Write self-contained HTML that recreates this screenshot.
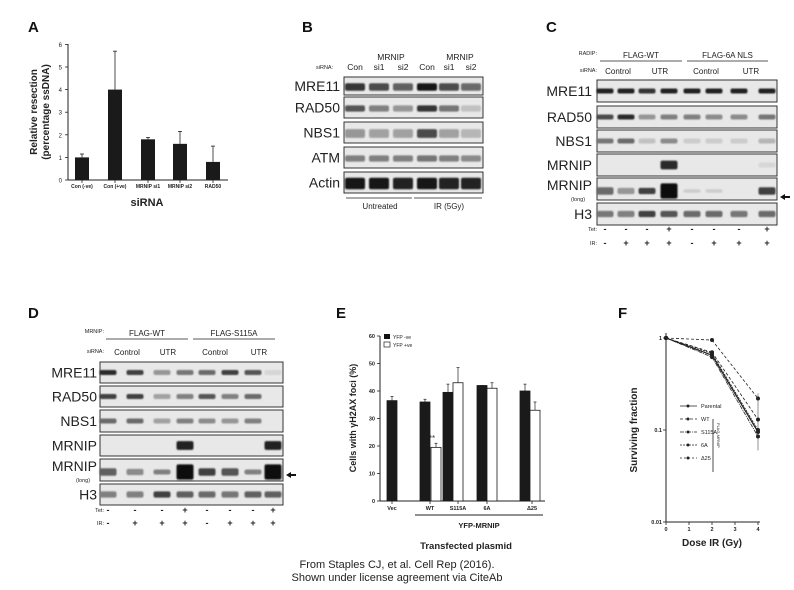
<!DOCTYPE html>
<html><head><meta charset="utf-8"><style>
html,body{margin:0;padding:0;background:#fff;width:794px;height:590px;overflow:hidden}
svg{display:block;font-family:"Liberation Sans",Arial,sans-serif}
</style></head><body>
<svg id="s" width="794" height="590" viewBox="0 0 794 590" xmlns="http://www.w3.org/2000/svg">
<defs><filter id="bl" x="-20%" y="-80%" width="140%" height="260%"><feGaussianBlur stdDeviation="0.7"/></filter></defs>
<g font-weight="bold" font-size="15" fill="#111">
<text x="28" y="32">A</text><text x="302" y="32">B</text><text x="546" y="32">C</text>
<text x="28" y="318">D</text><text x="336" y="318">E</text><text x="618" y="318">F</text>
</g>
<g stroke="#222" stroke-width="1" fill="none">
<line x1="68" y1="44" x2="68" y2="180"/><line x1="68" y1="180" x2="228" y2="180"/>
</g>
<text transform="translate(37,112) rotate(-90)" text-anchor="middle" font-size="10" font-weight="bold" fill="#222">Relative resection</text>
<text transform="translate(49,112) rotate(-90)" text-anchor="middle" font-size="10" font-weight="bold" fill="#222">(percentage ssDNA)</text>
<text x="147" y="206" text-anchor="middle" font-size="11" font-weight="bold" fill="#222">siRNA</text>
<g stroke="#222" stroke-width="1" fill="none">
<line x1="380" y1="336" x2="380" y2="501"/><line x1="380" y1="501" x2="545" y2="501"/>
<line x1="415" y1="515" x2="543" y2="515"/>
</g>
<rect x="384" y="334" width="6" height="5" fill="#111"/><text x="393" y="339" font-size="5" fill="#222">YFP -ve</text>
<rect x="384" y="342" width="6" height="5" fill="#fff" stroke="#222" stroke-width="0.7"/><text x="393" y="347" font-size="5" fill="#222">YFP +ve</text>
<text x="479" y="528" text-anchor="middle" font-size="7.5" font-weight="bold" fill="#222">YFP-MRNIP</text>
<text x="466" y="549" text-anchor="middle" font-size="9.5" font-weight="bold" fill="#222">Transfected plasmid</text>
<text transform="translate(356,418) rotate(-90)" text-anchor="middle" font-size="9" font-weight="bold" fill="#222">Cells with γH2AX foci (%)</text>
<text x="432" y="441" text-anchor="middle" font-size="8" fill="#333">**</text>
<g stroke="#222" stroke-width="1" fill="none">
<line x1="666" y1="333" x2="666" y2="522"/><line x1="666" y1="522" x2="760" y2="522"/>
</g>
<text transform="translate(637,430) rotate(-90)" text-anchor="middle" font-size="10" font-weight="bold" fill="#222">Surviving fraction</text>
<text x="712" y="546" text-anchor="middle" font-size="10" font-weight="bold" fill="#222">Dose IR (Gy)</text>
<text x="397" y="568" text-anchor="middle" font-size="11" fill="#222">From Staples CJ, et al. Cell Rep (2016).</text>
<text x="397" y="581" text-anchor="middle" font-size="11" fill="#222">Shown under license agreement via CiteAb</text>
<g id="blots"></g>
</svg>
<script>
const NS="http://www.w3.org/2000/svg",S=document.getElementById('s');
function el(t,a,txt,p){const e=document.createElementNS(NS,t);for(const k in a)e.setAttribute(k,a[k]);if(txt!=null)e.textContent=txt;(p||S).appendChild(e);return e;}
function T(x,y,s,sz,anc,w,fill){return el('text',{x,y,'font-size':sz||8,'text-anchor':anc||'start','font-weight':w||'normal',fill:fill||'#222'},s);}
function L(x1,y1,x2,y2,sw,da){const a={x1,y1,x2,y2,stroke:'#222','stroke-width':sw||1};if(da)a['stroke-dasharray']=da;return el('line',a);}
const ay=v=>180-v*22.6;
for(let i=0;i<=6;i++){L(65,ay(i),68,ay(i),0.8);T(62,ay(i)+2.5,i,6,'end');}
const A=[[82,1,1.15,'Con (-ve)'],[115,4,5.7,'Con (+ve)'],[148,1.8,1.88,'MRNIP si1'],[180,1.6,2.15,'MRNIP si2'],[213,0.8,1.5,'RAD50']];
A.forEach(([x,v,e,l])=>{L(x,ay(v),x,ay(e),0.8);L(x-2,ay(e),x+2,ay(e),0.8);el('rect',{x:x-7,y:ay(v),width:14,height:v*22.6,fill:'#1a1a1a'});L(x,180,x,183,0.8);T(x,188,l,5,'middle','bold');});
const ey=v=>501-v*2.75;
for(let i=0;i<=60;i+=10){L(377,ey(i),380,ey(i),0.8);T(375,ey(i)+2,i,5.5,'end','bold');}
const E=[[392,36.5,38,null],[425,36,37,1],[436,19.5,21,0],[448,39.5,42.5,1],[458,43,48.5,0],[482,42,42,1],[492,41,43,0],[525,40,42.5,1],[535,33,36,0]];
E.forEach(([x,v,e,w])=>{L(x,ey(v),x,ey(e),0.7);L(x-1.5,ey(e),x+1.5,ey(e),0.7);el('rect',{x:x-5,y:ey(v),width:10,height:v*2.75,fill:w===0?'#fff':'#1a1a1a',stroke:'#1a1a1a','stroke-width':0.8});});
[[392,'Vec'],[430,'WT'],[458,'S115A'],[487,'6A'],[532,'Δ25']].forEach(([x,l])=>{L(x,501,x,504,0.8);T(x,510,l,5.5,'middle','bold');});
const fx=d=>666+d*23, fy=v=>338-Math.log10(v)*92;
[[1,'1'],[0.1,'0.1'],[0.01,'0.01']].forEach(([v,l])=>{L(663,fy(v),666,fy(v),0.8);T(662,fy(v)+2,l,5.5,'end','bold');});
for(let d=0;d<=4;d++){L(fx(d),522,fx(d),525,0.8);T(fx(d),531,d,5.5,'middle','bold');}
const F=[[[1,0.65,0.095],null,1.2],[[1,0.7,0.13],'3,2',0.8],[[1,0.62,0.085],'4,1,1,1',0.8],[[1,0.68,0.1],'2,1',0.8],[[1,0.95,0.22],'3,2',0.8]];
F.forEach(([v,da,sw])=>{for(let i=0;i<2;i++)L(fx(i*2),fy(v[i]),fx(i*2+2),fy(v[i+1]),sw,da);v.forEach((y,i)=>el('circle',{cx:fx(i*2),cy:fy(y),r:2,fill:'#222'}));});
L(fx(4),fy(0.25),fx(4),fy(0.06),0.5);
const leg=['Parental','WT','S115A','6A','Δ25'],das=[null,'3,2','4,1,1,1','2,1','2,2'];
leg.forEach((l,i)=>{const y=406+i*13;L(680,y,697,y,0.8,das[i]);el('circle',{cx:688,cy:y,r:1.5,fill:'#222'});T(701,y+2,l,5.5);});
L(713,419,713,472,0.8);
el('text',{transform:'translate(717,423) rotate(90)','font-size':4,fill:'#222'},'FLAG-MRNIP');
const B=document.getElementById('blots');
function box(x1,x2,y1,y2){el('rect',{x:x1,y:y1,width:x2-x1,height:y2-y1,fill:'#e8e8e8',stroke:'#333','stroke-width':1},null,B);}
function band(x,y,w,h,d){if(d<=0||h<=0)return;const g=Math.round(225-d*215);el('rect',{x:x-w/2,y:y-(h*1.3+1)/2,width:w,height:h*1.3+1,rx:2,fill:`rgb(${g},${g},${g})`,filter:'url(#bl)'},null,B);}
const bl=[355,379,403,427,449,471];
const Brows=[['MRE11',77,95,[.8,.7,.6,.95,.7,.55],5],['RAD50',97,118,[.65,.45,.35,.8,.5,.15],4],['NBS1',122,143,[.35,.3,.3,.7,.3,.2],6],['ATM',147,168,[.45,.45,.45,.5,.45,.4],4],['Actin',172,193,[.95,.95,.9,.95,.9,.9],8]];
Brows.forEach(([n,y1,y2,d,h])=>{box(344,483,y1,y2);T(340,(y1+y2)/2+5,n,14,'end');d.forEach((v,i)=>band(bl[i],(y1+y2)/2+1,20,h,v));});
T(316,69,'siRNA:',5.5);['Con','si1','si2','Con','si1','si2'].forEach((l,i)=>T(bl[i],70,l,8.5,'middle'));
T(391,60,'MRNIP',8.5,'middle');T(460,60,'MRNIP',8.5,'middle');
L(346,198,412,198,0.8);L(414,198,482,198,0.8);
T(380,209,'Untreated',8,'middle');T(449,209,'IR (5Gy)',8,'middle');
function wb(o){
 T(o.hx,o.hy,o.hl,5.5,'end');T(o.hx,o.sy,'siRNA:',5.5,'end');
 o.grp.forEach(([x1,x2,l])=>{L(x1,o.hy+6,x2,o.hy+6,0.8);T((x1+x2)/2,o.hy+3,l,8,'middle');});
 o.sir.forEach(([x,l])=>T(x,o.sy+2,l,8,'middle'));
 o.rows.forEach(([n,y1,y2,d,h,sub])=>{box(o.x1,o.x2,y1,y2);T(o.lx,(y1+y2)/2+(sub?1:5),n,14,'end');if(sub)T(o.lx-14,y2+1,'(long)',5.5,'middle');d.forEach((v,i)=>band(o.ln[i],(y1+y2)/2+(sub?2:0),17,Array.isArray(h)?h[i]:h,v));});
 T(o.hx,o.ty+2,'Tet:',5.5,'end');T(o.hx,o.iy+2,'IR:',5.5,'end');
 o.tet.forEach((t,i)=>T(o.ln[i],o.ty+3,t?'+':'-',9,'middle','bold'));
 o.ir.forEach((t,i)=>T(o.ln[i],o.iy+3,t?'+':'-',9,'middle','bold'));
 el('path',{d:`M${o.ax-5} ${o.ay} l5 -3 v2 h5 v2 h-5 v2 z`,fill:'#111'});
}
wb({x1:597,x2:777,lx:592,hx:597,hy:55,sy:72,ty:229,iy:243,ax:785,ay:197,hl:'RADIP:',
 ln:[605,626,647,669,692,714,739,767],
 grp:[[600,682,'FLAG-WT'],[687,768,'FLAG-6A NLS']],sir:[[618,'Control'],[660,'UTR'],[706,'Control'],[751,'UTR']],
 rows:[['MRE11',80,102,[.9,.9,.8,.9,.9,.9,.9,.9],3],['RAD50',106,128,[.7,.85,.35,.45,.45,.4,.4,.5],3],['NBS1',130,152,[.5,.55,.15,.4,.1,.1,.1,.2],3],['MRNIP',154,176,[0,0,0,.85,0,0,0,0.05],[0,0,0,6,0,0,0,3]],['MRNIP',178,200,[.55,.35,.75,1,.1,.1,0,.75],[5,4,4,11,2,2,2,5],1],['H3',203,225,[.5,.45,.75,.65,.55,.55,.5,.55],4]],
 tet:[0,0,0,1,0,0,0,1],ir:[0,1,1,1,0,1,1,1]});
wb({x1:100,x2:283,lx:97,hx:104,hy:333,sy:353,ty:510,iy:523,ax:291,ay:475,hl:'MRNIP:',
 ln:[108,135,162,185,207,230,253,273],
 grp:[[106,188,'FLAG-WT'],[193,275,'FLAG-S115A']],sir:[[127,'Control'],[168,'UTR'],[215,'Control'],[259,'UTR']],
 rows:[['MRE11',362,383,[.85,.75,.35,.5,.55,.75,.65,.05],3],['RAD50',386,407,[.75,.75,.3,.45,.65,.45,.55,0],3],['NBS1',410,432,[.55,.55,.3,.45,.4,.35,.45,0],3],['MRNIP',435,456,[0,0,0,.9,0,0,0,.9],[0,0,0,6,0,0,0,6]],['MRNIP',459,481,[.6,.4,.45,1,.75,.65,.45,1],[5,4,3,11,5,5,3,11],1],['H3',484,505,[.45,.45,.75,.6,.55,.5,.6,.6],4]],
 tet:[0,0,0,1,0,0,0,1],ir:[0,1,1,1,0,1,1,1]});
</script>
</body></html>
